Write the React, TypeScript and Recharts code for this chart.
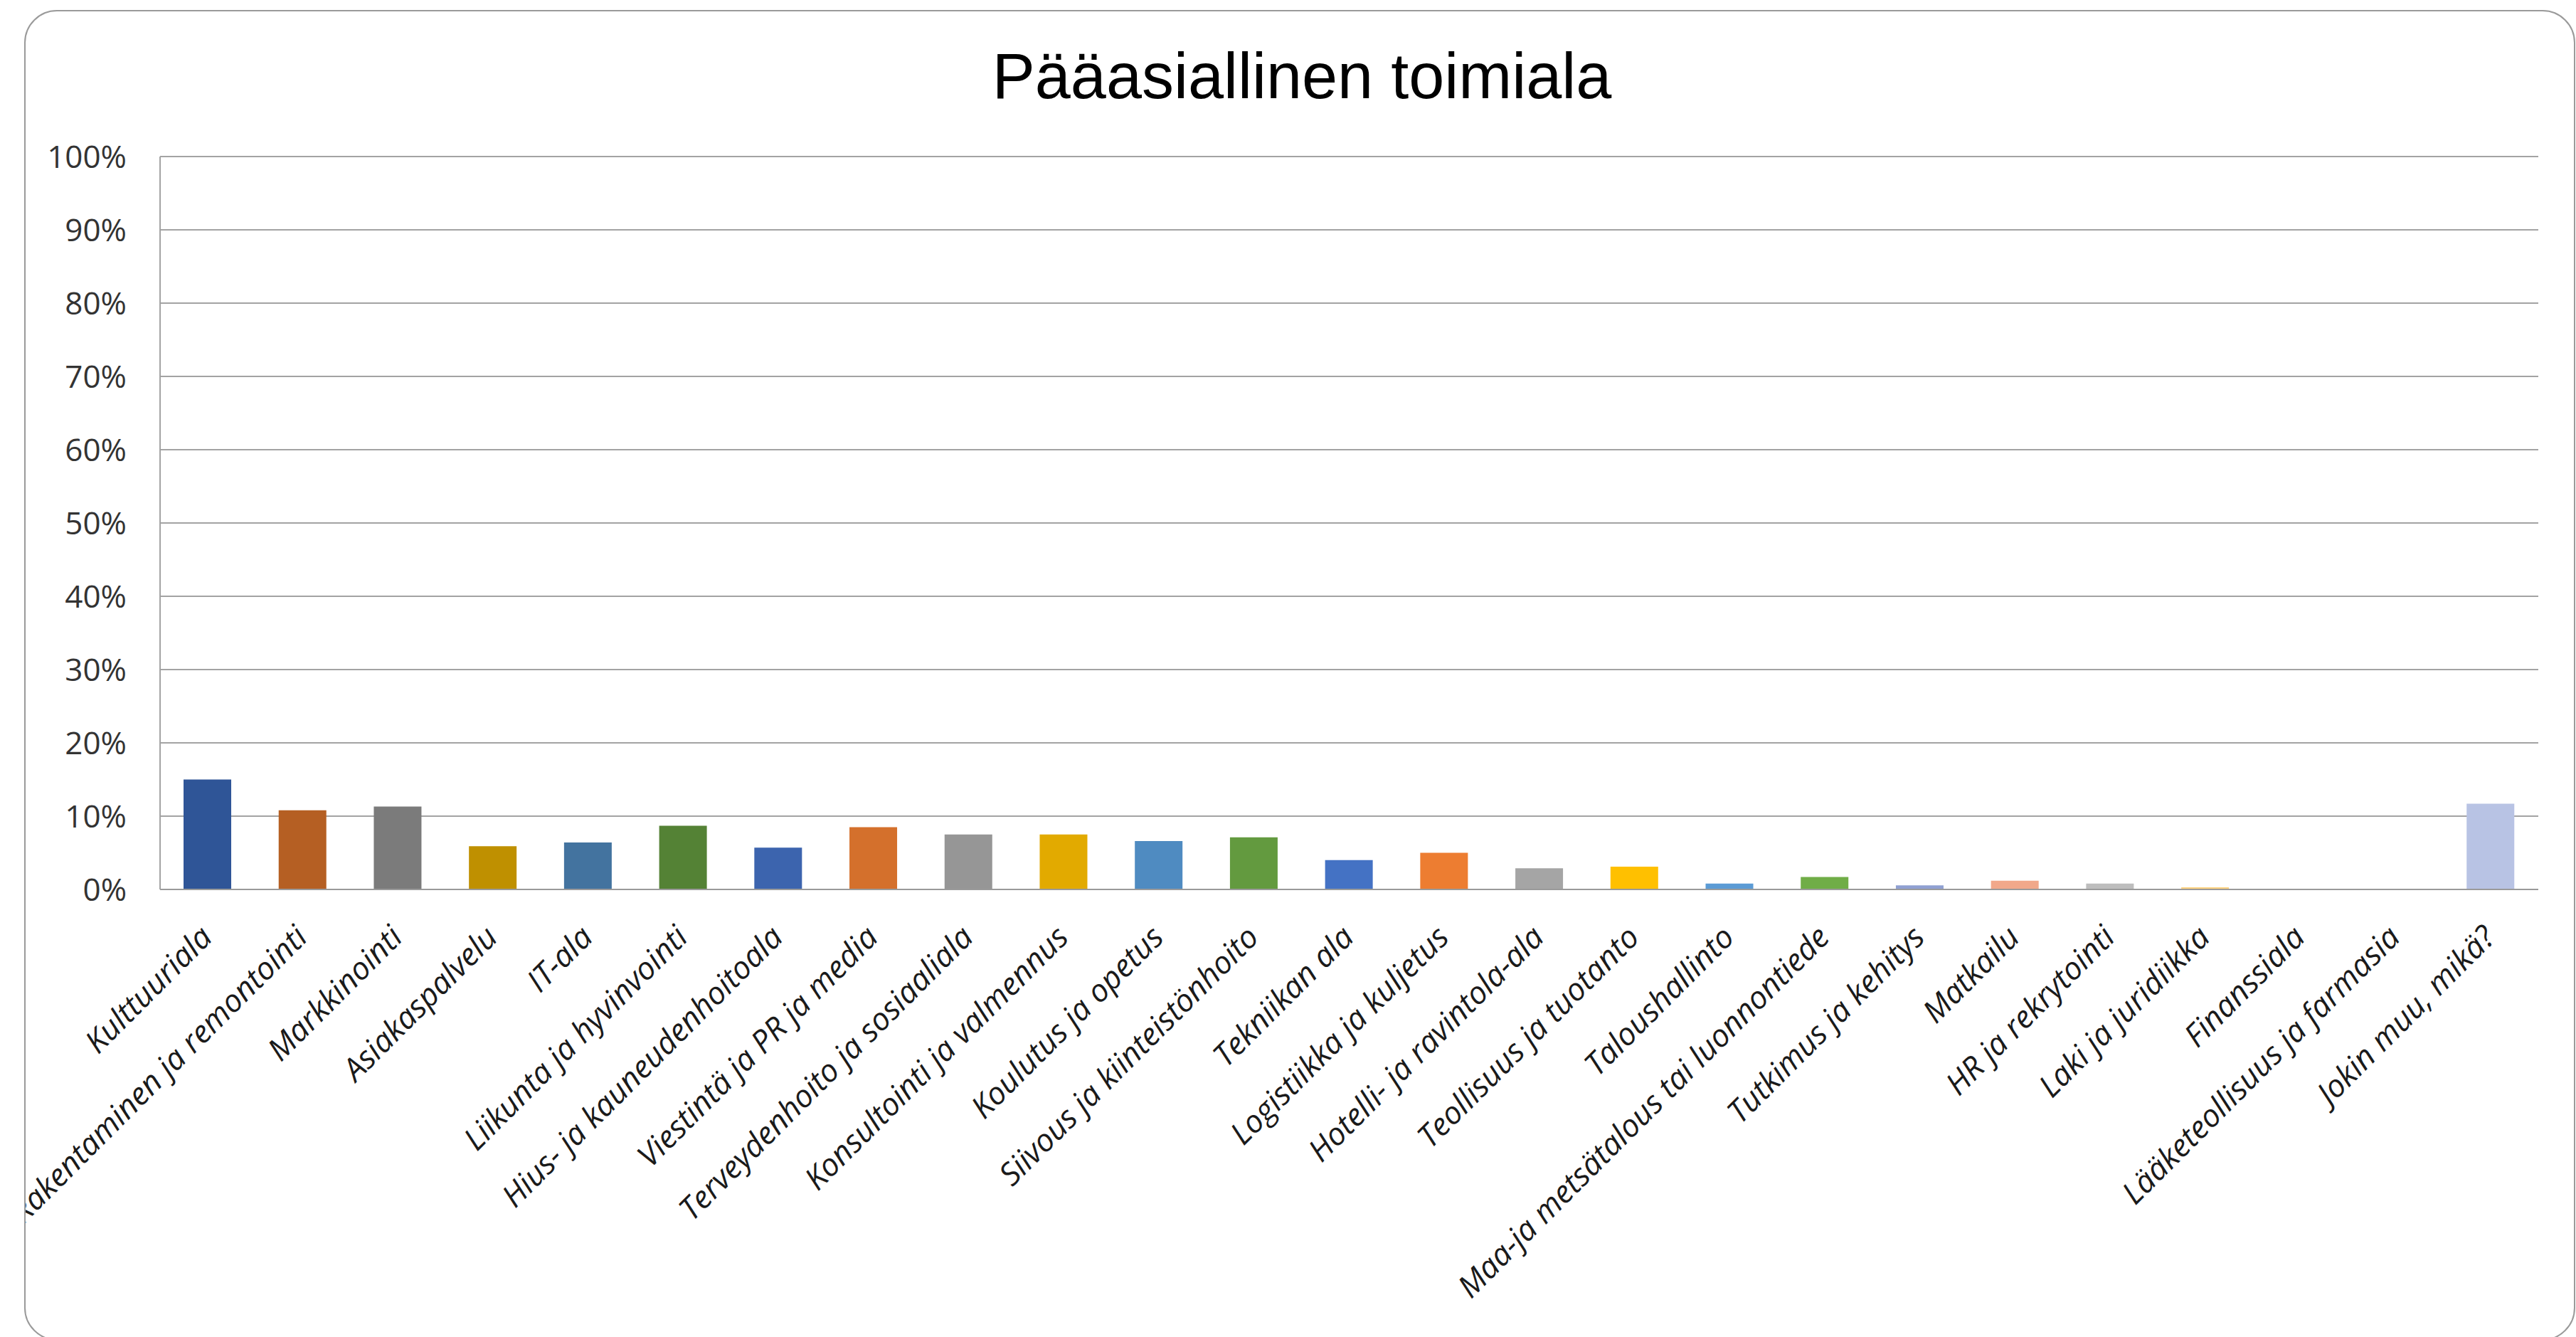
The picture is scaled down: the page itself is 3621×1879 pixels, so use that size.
import { BarChart, Bar, XAxis, YAxis, CartesianGrid, Cell } from 'recharts';

const categories = [
  'Kulttuuriala',
  'Rakentaminen ja remontointi',
  'Markkinointi',
  'Asiakaspalvelu',
  'IT-ala',
  'Liikunta ja hyvinvointi',
  'Hius- ja kauneudenhoitoala',
  'Viestintä ja PR ja media',
  'Terveydenhoito ja sosiaaliala',
  'Konsultointi ja valmennus',
  'Koulutus ja opetus',
  'Siivous ja kiinteistönhoito',
  'Tekniikan ala',
  'Logistiikka ja kuljetus',
  'Hotelli- ja ravintola-ala',
  'Teollisuus ja tuotanto',
  'Taloushallinto',
  'Maa-ja metsätalous tai luonnontiede',
  'Tutkimus ja kehitys',
  'Matkailu',
  'HR ja rekrytointi',
  'Laki ja juridiikka',
  'Finanssiala',
  'Lääketeollisuus ja farmasia',
  'Jokin muu, mikä?',
];

// share of respondents, %
const shares = [
  15.0, 10.8, 11.3, 5.9, 6.4, 8.7, 5.7, 8.5, 7.5, 7.5, 6.6, 7.1, 4.0, 5.0, 2.9, 3.1,
  0.8, 1.7, 0.55, 1.2, 0.8, 0.3, 0, 0, 11.7,
];

const yTicks = [0, 10, 20, 30, 40, 50, 60, 70, 80, 90, 100];

const barColors = [
  '#2F5597', '#B55F23', '#7B7B7B', '#BF9000', '#43739F', '#548235', '#3C64AE',
  '#D4702C', '#969696', '#E2AA00', '#4F8BC1', '#639A3F', '#4472C4', '#ED7D31',
  '#A5A5A5', '#FFC000', '#5B9BD5', '#70AD47', '#8FA0D2', '#F1A88A', '#BDBDBD',
  '#FFD27F', '#9DC3E6', '#A9D18E', '#B8C3E4',
];

const data = categories.map((name, i) => ({ name, share: shares[i] }));

const CategoryTick = ({ x, y, payload }: any) => {
  const tx = x + 9;
  const ty = y + 70;
  return (
    <text
      x={tx}
      y={ty}
      transform={`rotate(-45, ${tx}, ${ty})`}
      textAnchor="end"
      fontFamily="'Open Sans', sans-serif"
      fontStyle="italic"
      fontSize={44}
      fill="#1a1a1a"
    >
      {payload.value}
    </text>
  );
};

const App = () => (
  <div
    style={{
      position: 'fixed',
      left: 0,
      top: 0,
      width: 3621,
      height: 1879,
      overflow: 'hidden',
      background: '#fff',
    }}
  >
    {/* chart area frame */}
    <div
      style={{
        position: 'absolute',
        left: 34,
        top: 14,
        width: 3586,
        height: 1870,
        boxSizing: 'border-box',
        border: '2px solid #9a9a9a',
        borderRadius: 46,
        overflow: 'hidden',
      }}
    >
      <div style={{ position: 'absolute', left: -36, top: -16, width: 3621, height: 1879 }}>
        <BarChart
          width={3621}
          height={1879}
          data={data}
          margin={{ top: 220, right: 53, left: 0, bottom: 0 }}
        >
          <CartesianGrid vertical={false} stroke="#a3a3a3" strokeWidth={2} />
          <XAxis
            dataKey="name"
            interval={0}
            height={629}
            tickSize={0}
            tickMargin={0}
            tickLine={false}
            axisLine={{ stroke: '#9a9a9a', strokeWidth: 2 }}
            tick={<CategoryTick />}
          />
          <YAxis
            type="number"
            width={225}
            domain={[0, 100]}
            ticks={yTicks}
            tickFormatter={(v: number) => `${v}%`}
            tickSize={0}
            tickMargin={47}
            tickLine={false}
            axisLine={{ stroke: '#a3a3a3', strokeWidth: 2 }}
            tick={{ fontSize: 44, fill: '#333', fontFamily: "'Open Sans', sans-serif" }}
          />
          <Bar dataKey="share" barSize={67} fill="#2F5597" isAnimationActive={false}>
            {data.map((_, i) => (
              <Cell key={`bar-${i}`} fill={barColors[i]} />
            ))}
          </Bar>
        </BarChart>
      </div>
    </div>

    <div
      style={{
        position: 'absolute',
        left: 1830,
        top: 62,
        transform: 'translateX(-50%)',
        whiteSpace: 'nowrap',
        fontFamily: "'Liberation Sans', Arial, sans-serif",
        fontSize: 90,
        lineHeight: 1,
        color: '#000',
      }}
    >
      Pääasiallinen toimiala
    </div>
  </div>
);

export default App;
